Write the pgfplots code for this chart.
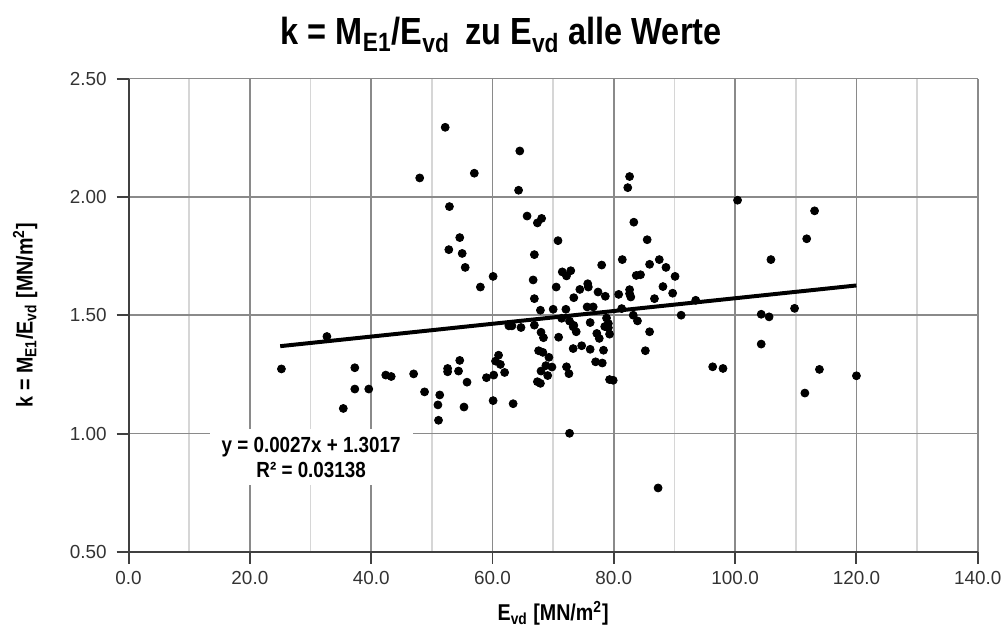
\documentclass[border=0pt]{standalone}
\usepackage{fontspec}
\setmainfont{Liberation Sans}
\newfontfamily\narrowbold{Liberation Sans}[FakeStretch=0.86,BoldFont={Liberation Sans Bold}]
\usepackage{pgfplots}
\pgfplotsset{compat=1.18}
\definecolor{majgrid}{HTML}{8A8A8A}
\definecolor{mingrid}{HTML}{D6D6D6}
\definecolor{ticktext}{HTML}{333333}
\begin{document}
\begin{tikzpicture}
\begin{axis}[
  scale only axis,
  width=427pt, height=238pt,
  xmin=0, xmax=140, ymin=0.5, ymax=2.5,
  xtick={0,20,...,140}, ytick={0.5,1.0,...,2.5},
  minor x tick num=1,
  grid=both,
  major grid style={majgrid, line width=0.9pt},
  minor grid style={mingrid, line width=0.8pt},
  axis x line*=bottom, axis y line*=left,
  axis line style={black!75, line width=1pt},
  tick style={black!75, line width=1pt},
  major tick length=6pt, minor tick length=0pt,
  tick align=outside,
  /pgf/number format/assume math mode=true,
  xticklabel style={/pgf/number format/fixed, /pgf/number format/fixed zerofill, /pgf/number format/precision=1, yshift=0pt},
  yticklabel style={/pgf/number format/fixed, /pgf/number format/fixed zerofill, /pgf/number format/precision=2, xshift=-1.5pt},
  ticklabel style={font=\fontsize{9.5}{11}\selectfont, text=ticktext},
  xlabel={\narrowbold\bfseries E\textsubscript{vd} [MN/m\textsuperscript{2}]},
  ylabel={\narrowbold\bfseries k = M\textsubscript{E1}/E\textsubscript{vd} [MN/m\textsuperscript{2}]},
  label style={font=\fontsize{11.5}{13}\selectfont},
  xlabel style={at={(axis description cs:0.5,-0.130)}, anchor=center},
  ylabel style={at={(axis description cs:-0.1218,0.5)}, anchor=center, rotate=0},
  clip=false,
]
\addplot[only marks, mark=*, mark size=2pt, black] coordinates {
(25.2,1.273) (32.7,1.410) (37.3,1.278) (37.3,1.188) (39.6,1.188) (35.4,1.106)
(42.4,1.247) (43.3,1.241) (47.0,1.252)
(48.8,1.176) (51.3,1.163) (51.0,1.121) (51.1,1.056) (55.3,1.112)
(52.6,1.275) (52.6,1.261) (54.4,1.264) (54.6,1.309) (55.8,1.217)
(59.0,1.236) (60.2,1.247) (60.1,1.139) (63.4,1.126) (61.0,1.331)
(60.5,1.306) (61.3,1.292) (62.0,1.258) (62.7,1.455) (63.2,1.455)
(64.7,1.448) (66.9,1.458) (67.9,1.521) (70.0,1.525) (72.1,1.525)
(72.7,1.001) (68.0,1.428) (68.4,1.405) (70.9,1.407) (67.6,1.350)
(68.3,1.343) (69.3,1.322) (68.8,1.287) (69.8,1.281) (68.0,1.264)
(69.1,1.245) (67.4,1.219) (67.9,1.212) (72.2,1.282) (72.6,1.253)
(77.0,1.303) (78.1,1.298) (79.3,1.228) (79.9,1.225)
(52.2,2.294) (48.0,2.080) (57.0,2.100) (64.5,2.194) (64.3,2.028)
(52.9,1.959) (65.7,1.919) (67.4,1.890) (68.1,1.909) (70.8,1.815)
(54.6,1.828) (52.8,1.777) (55.0,1.761) (55.5,1.702) (66.9,1.756)
(58.0,1.619) (60.1,1.664) (66.7,1.649) (66.9,1.570) (78.0,1.712)
(71.5,1.683) (72.2,1.666) (72.9,1.688) (70.5,1.619) (74.4,1.609)
(75.7,1.633) (75.8,1.619) (77.4,1.598) (78.6,1.580) (73.4,1.574)
(80.8,1.588) (82.6,1.608) (82.6,1.591) (82.8,1.577)
(75.6,1.535) (76.6,1.535) (81.3,1.528) (83.2,1.500)
(71.4,1.487) (72.7,1.475) (73.4,1.457) (73.3,1.451) (73.8,1.430)
(76.1,1.469) (78.8,1.488) (79.1,1.465) (79.1,1.447) (78.5,1.452) (79.3,1.420)
(77.2,1.423) (77.6,1.402) (73.3,1.359) (74.7,1.371) (76.1,1.356) (78.3,1.352)
(82.6,2.086) (82.3,2.039) (100.4,1.986) (83.3,1.893) (85.5,1.819)
(81.4,1.735) (85.9,1.715) (87.5,1.735) (88.6,1.702) (90.1,1.664)
(83.7,1.668) (84.4,1.671) (88.1,1.621) (89.7,1.593) (86.7,1.570)
(93.5,1.563) (83.9,1.476) (91.1,1.500) (104.3,1.504) (105.6,1.493)
(105.9,1.735) (85.9,1.430) (85.2,1.350) (104.3,1.378) (96.3,1.282)
(98.0,1.275) (87.3,0.770)
(113.1,1.941) (111.8,1.823) (109.8,1.529) (113.9,1.271) (120.0,1.244) (111.5,1.171)
};
\addplot[black, line width=2pt] coordinates {(25,1.3692) (120,1.6257)};
\node[fill=white, align=center, inner xsep=6pt, inner ysep=4pt, font=\narrowbold\bfseries\fontsize{11}{12.5}\selectfont] at (axis cs:30.1,0.90) {y = 0.0027x + 1.3017\\R² = 0.03138};
\end{axis}
\node[font=\narrowbold\bfseries\fontsize{19}{22}\selectfont] at ([xshift=187.35pt, yshift=22pt]current axis.north west) {k = M\textsubscript{E1}/E\textsubscript{vd}\, zu E\textsubscript{vd} alle Werte};
\path ([xshift=-64.65pt,yshift=-41pt]current axis.south west) rectangle ([xshift=12.35pt,yshift=39.5pt]current axis.north east);
\end{tikzpicture}
\end{document}
